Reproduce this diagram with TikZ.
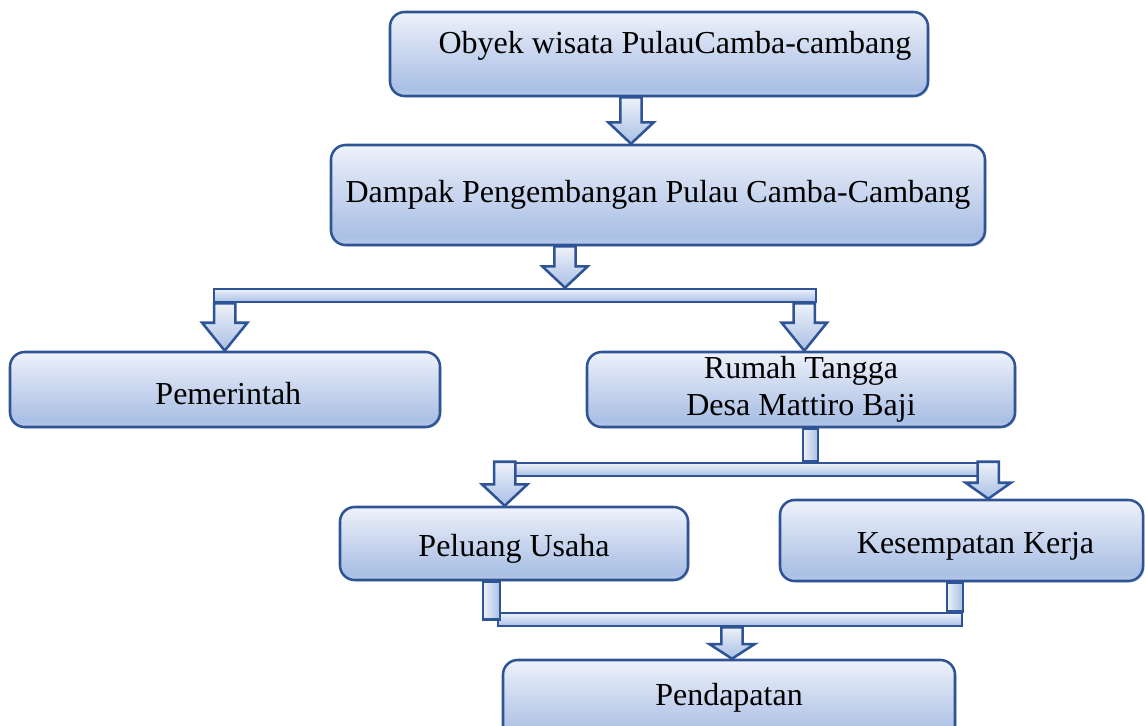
\documentclass[tikz,border=0pt]{standalone}
\usepackage{fontspec}
\setmainfont{Liberation Serif}
\usetikzlibrary{calc,shadows}

\definecolor{boxline}{HTML}{2F5496}
\definecolor{btop}{HTML}{EEF2FA}
\definecolor{bmid}{HTML}{C8D5EE}
\definecolor{bdark}{HTML}{A9BFE4}
\definecolor{bbot}{HTML}{BCCCEA}
\pgfdeclareverticalshading{boxfill}{100bp}{color(0bp)=(bbot); color(25bp)=(bbot); color(29bp)=(bdark); color(50bp)=(bmid); color(75bp)=(btop); color(100bp)=(btop)}

% block arrow from #2 down to the tip #3, #1 = head length
\newcommand{\blkarrow}[3][16pt]{%
  \path[blk] let \p1=(#2), \p2=(#3) in
    (\x1-8pt,\y1) -- (\x1+8pt,\y1) -- (\x1+8pt,\y2+#1) -- (\x1+17pt,\y2+#1)
    -- (\x1,\y2) -- (\x1-17pt,\y2+#1) -- (\x1-8pt,\y2+#1) -- cycle;}

\begin{document}
\begin{tikzpicture}[x=0.75pt, y=-0.75pt,
  box/.style={draw=boxline, line width=1.9pt, rounded corners=11pt, shade, shading=boxfill,
    drop shadow={shadow xshift=1.2pt, shadow yshift=-1.2pt, opacity=0.25},
    font=\fontsize{24}{28}\selectfont, align=center, inner sep=0pt},
  blk/.style={draw=boxline, line width=1.9pt, line join=miter, top color=btop, bottom color=bdark},
  bar/.style={draw=boxline, line width=1.9pt, top color=btop, bottom color=bdark,
    inner sep=0pt, minimum height=9.75pt},
  stem/.style={draw=boxline, line width=1.9pt, left color=btop, right color=bdark}]
	\useasboundingbox (0,0) rectangle (1145,725);

	\node[box, minimum width=403.5pt, minimum height=63pt] (obyek) at (659,54) {\raisebox{0.75pt}[0pt][0pt]{\hspace*{24pt}Obyek wisata PulauCamba-cambang}};
	\node[box, minimum width=490.5pt, minimum height=75pt] (dampak) at (658,195) {Dampak Pengembangan Pulau Camba-Cambang};
	\node[box, minimum width=322.5pt, minimum height=56.25pt] (pemerintah) at (225,389.5) {\raisebox{-11.5pt}[0pt][0pt]{\hspace*{5pt}Pemerintah}};
	\node[box, minimum width=321pt, minimum height=56.25pt] (rumah) at (801,389.5) {Rumah Tangga\\Desa Mattiro Baji};
	\node[box, minimum width=261pt, minimum height=54.75pt] (peluang) at (514,543.5) {\raisebox{-10pt}[0pt][0pt]{Peluang Usaha}};
	\node[box, minimum width=272.25pt, minimum height=60.75pt] (kesempatan) at (961.5,540.5) {\raisebox{-9.4pt}[0pt][0pt]{\hspace*{21pt}Kesempatan Kerja}};
	\node[box, minimum width=339pt, minimum height=60pt] (pendapatan) at (729,700) {\raisebox{-3.75pt}[0pt][0pt]{Pendapatan}};

	\node[bar, minimum width=451.5pt] (bar1) at (515,295.5) {};
	\node[bar, minimum width=348.75pt] (bar2) at (745.5,469.5) {};
	\node[bar, minimum width=348pt] (bar3) at (730,619.5) {};

	\coordinate (s1) at ([xshift=12.75pt]rumah.south);
	\coordinate (s2) at ([xshift=-10.5pt]peluang.south);
	\coordinate (s3) at ([xshift=1pt]kesempatan.south);
	\path[stem] ([xshift=1.5pt]rumah.south) rectangle (s1 |- bar2.north);
	\path[stem] ([xshift=-23.25pt]peluang.south) rectangle (s2 |- bar3.center);
	\path[stem] ([xshift=-11pt]kesempatan.south) rectangle (s3 |- bar3.north);

	\coordinate (a1) at ([xshift=-21pt]obyek.south);
	\coordinate (a2) at ([xshift=-69.75pt]dampak.south);
	\coordinate (a3) at ([xshift=9pt]bar1.south west);
	\coordinate (a4) at ([xshift=-9.75pt]bar1.south east);
	\coordinate (a5) at ([xshift=-5.25pt]bar2.north west);
	\coordinate (a6) at ([xshift=6.75pt]bar2.north east);
	\coordinate (a7) at ([xshift=1.5pt]bar3.south);
	\blkarrow{a1}{a1 |- dampak.north}
	\blkarrow{a2}{a2 |- bar1.north}
	\blkarrow[21pt]{a3}{a3 |- pemerintah.north}
	\blkarrow[21pt]{a4}{a4 |- rumah.north}
	\blkarrow{a5}{a5 |- peluang.north}
	\blkarrow[12pt]{a6}{a6 |- kesempatan.north}
	\blkarrow[11pt]{a7}{a7 |- pendapatan.north}

\end{tikzpicture}
\end{document}
